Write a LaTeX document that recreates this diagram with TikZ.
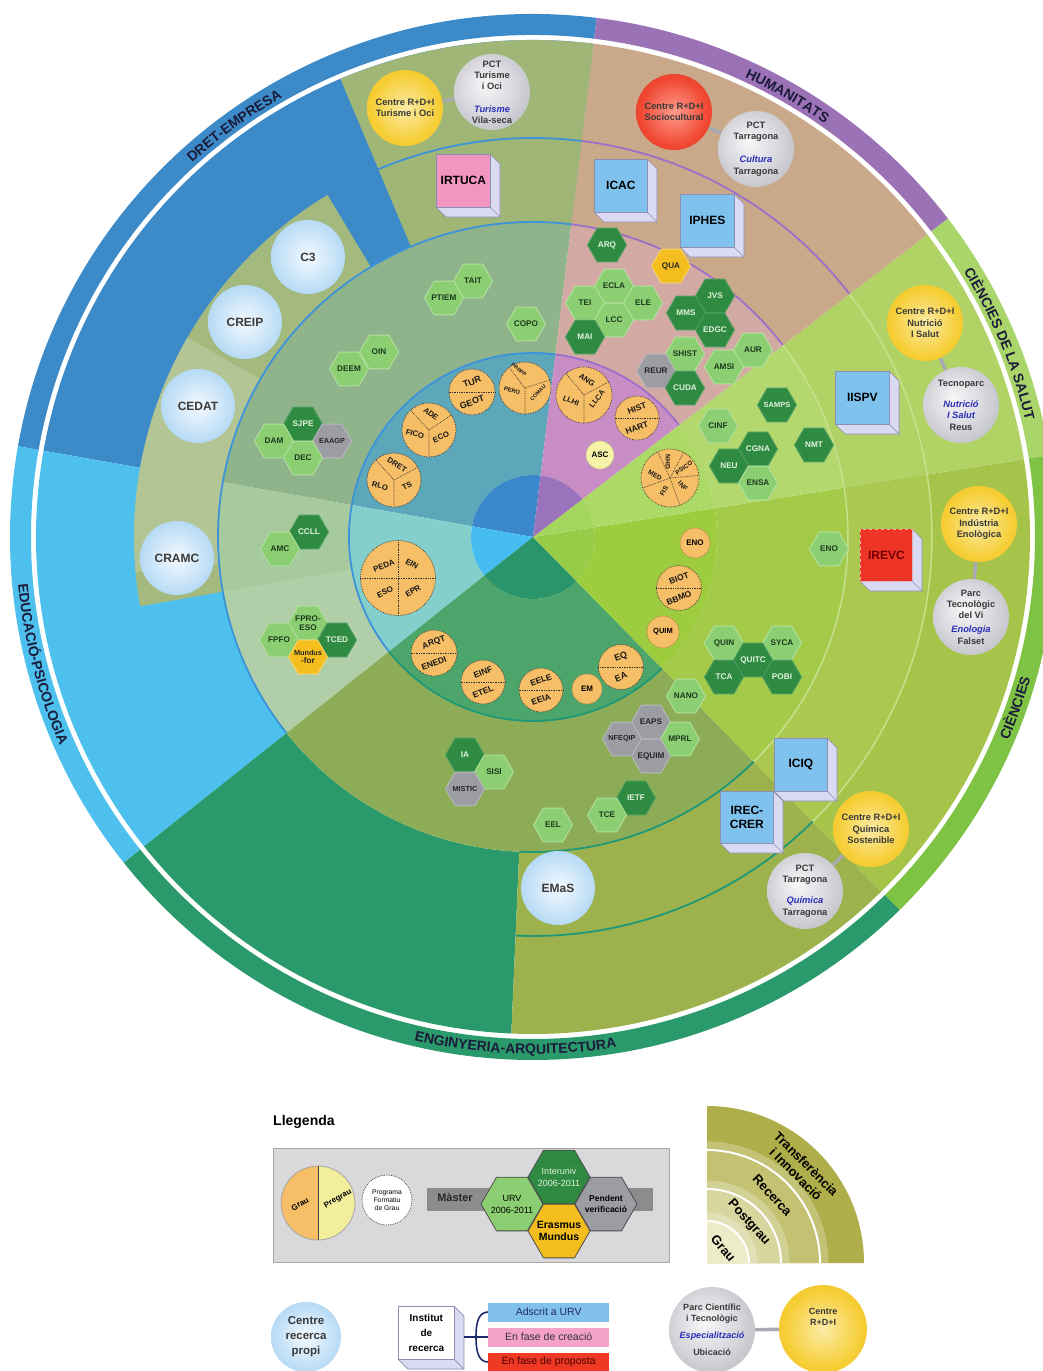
\documentclass[tikz,border=0pt]{standalone}
\usepackage{fontspec}
\setmainfont{Liberation Sans}
\setsansfont{Liberation Sans}
\usetikzlibrary{shapes.geometric,decorations.text,calc}
\pgfdeclarelayer{bg}
\pgfdeclarelayer{mid}
\pgfsetlayers{bg,mid,main}

\definecolor{cA}{HTML}{3D8AC9}
\definecolor{cB}{HTML}{9B72B6}
\definecolor{cC}{HTML}{A9D56A}
\definecolor{cD}{HTML}{7FC344}
\definecolor{cE}{HTML}{2A9A6C}
\definecolor{cF}{HTML}{4EC0EE}
\definecolor{tOlv}{HTML}{9FB676}
\definecolor{pOlv}{HTML}{A4B97E}
\definecolor{tB}{HTML}{C9A989}
\definecolor{tC}{HTML}{B1D265}
\definecolor{tD}{HTML}{A7C44A}
\definecolor{rD}{HTML}{ABC851}
\definecolor{tEo}{HTML}{9DB24C}
\definecolor{pgA}{HTML}{8FB48C}
\definecolor{pgF}{HTML}{A6C99E}
\definecolor{pgE}{HTML}{8DAC57}
\definecolor{pgD}{HTML}{A3CB49}
\definecolor{pgC}{HTML}{B3D86D}
\definecolor{pgB}{HTML}{D3AAA3}
\definecolor{grA}{HTML}{5CA7BA}
\definecolor{grF}{HTML}{84CFCB}
\definecolor{grE}{HTML}{4CA66C}
\definecolor{grD}{HTML}{9DCD3F}
\definecolor{grC}{HTML}{ADDA66}
\definecolor{grB}{HTML}{C98DC6}
\definecolor{inA}{HTML}{3B87CC}
\definecolor{inF}{HTML}{45BDF0}
\definecolor{inE}{HTML}{2A946A}
\definecolor{inD}{HTML}{98CC48}
\definecolor{inC}{HTML}{A4D55D}
\definecolor{inB}{HTML}{9B72BC}
\definecolor{lnA}{HTML}{3C93DA}
\definecolor{lnB}{HTML}{9C6FC9}
\definecolor{lnCD}{HTML}{C6E18C}
\definecolor{lnE}{HTML}{1F9878}
\definecolor{lbl}{HTML}{1B1B3A}
\definecolor{hexl}{HTML}{8BCF72}
\definecolor{hexlb}{HTML}{B2E09E}
\definecolor{hexlt}{HTML}{1E3A1E}
\definecolor{hexd}{HTML}{2F8A42}
\definecolor{hexdb}{HTML}{4E9E5E}
\definecolor{hexdt}{HTML}{E2F3DC}
\definecolor{hexy}{HTML}{F4BF1E}
\definecolor{hexyb}{HTML}{F7D266}
\definecolor{hexg}{HTML}{9C9CA3}
\definecolor{hexgb}{HTML}{B8B8BE}
\definecolor{grauor}{HTML}{F6BE66}
\definecolor{pregr}{HTML}{F2EE9C}
\definecolor{ascc}{HTML}{F5F2A8}
\definecolor{sphtxt}{HTML}{3A3A3A}
\definecolor{itblue}{HTML}{2B2DB8}
\definecolor{cubeside}{HTML}{DADAF2}
\definecolor{cubeedge}{HTML}{8E8EB4}
\definecolor{cubeblue}{HTML}{80C2EE}
\definecolor{cubepink}{HTML}{F096C0}
\definecolor{cubered}{HTML}{EE3424}
\definecolor{connc}{HTML}{A9A9B1}
\definecolor{yelc}{HTML}{FBEBA6}
\definecolor{yelm}{HTML}{F6CE36}
\definecolor{yele}{HTML}{EDB00E}
\definecolor{gryc}{HTML}{F8F8FA}
\definecolor{grym}{HTML}{D0D0D6}
\definecolor{grye}{HTML}{9A9AA4}
\definecolor{redc}{HTML}{FF9C8C}
\definecolor{redm}{HTML}{F04833}
\definecolor{rede}{HTML}{D22A18}
\definecolor{bluc}{HTML}{F4FAFF}
\definecolor{blum}{HTML}{B6DAF5}
\definecolor{bluee}{HTML}{74AEE4}
\definecolor{legbg}{HTML}{D9D9DB}
\definecolor{legbd}{HTML}{A6A6A8}
\definecolor{mbar}{HTML}{8C8C8E}
\definecolor{qa}{HTML}{EDECC8}
\definecolor{qb}{HTML}{D8D69E}
\definecolor{qc}{HTML}{C4C272}
\definecolor{qd}{HTML}{B0AE4A}
\definecolor{brk}{HTML}{1F2A6A}
\definecolor{barb}{HTML}{80C0EA}
\definecolor{barp}{HTML}{F4A2C8}
\definecolor{barr}{HTML}{EE3A24}

\pgfdeclareradialshading{sphyel}{\pgfpoint{0bp}{0bp}}{color(0bp)=(yelc); color(22bp)=(yelm); color(50bp)=(yele)}
\pgfdeclareradialshading{sphgry}{\pgfpoint{-5bp}{5bp}}{color(0bp)=(gryc); color(22bp)=(grym); color(50bp)=(grye)}
\pgfdeclareradialshading{sphred}{\pgfpoint{0bp}{0bp}}{color(0bp)=(redc); color(22bp)=(redm); color(50bp)=(rede)}
\pgfdeclareradialshading{sphblu}{\pgfpoint{0bp}{0bp}}{color(0bp)=(bluc); color(25bp)=(blum); color(50bp)=(bluee)}

\newcommand\fsz[2]{\fontsize{#1}{#2}\selectfont}
\newcommand\tbl[1]{{\color{itblue}\itshape #1}}
\newcommand\annsec[5]{\fill[#1] (#2:#4) arc[start angle=#2,end angle=#3,radius=#4] -- (#3:#5) arc[start angle=#3,end angle=#2,radius=#5] -- cycle;}
\newcommand\piesec[4]{\fill[#1] (0,0) -- (#2:#4) arc[start angle=#2,end angle=#3,radius=#4] -- cycle;}
\newcommand\rarc[4]{\draw[#1] (#2:#4) arc[start angle=#2,end angle=#3,radius=#4];}
\newcommand\toplab[4]{\path[decorate,decoration={text along path,text align=center,text color=lbl,text={|\fsz{14}{14}\bfseries|#4}}] (#1:#3) arc[start angle=#1,end angle=#2,radius=#3];}
% flat-top hexagon: #1 kind, #2 name, #3 x, #4 y, #5 text
\newcommand\hx[5]{%
 \filldraw[hexf#1] (#3,-#4) +(0:19.5) -- +(60:19.5) -- +(120:19.5) -- +(180:19.5) -- +(240:19.5) -- +(300:19.5) -- cycle;
 \node[hext#1] (#2) at (#3,-#4) {#5};}
% legend hexagon: #1 fill, #2 name, #3 x, #4 y, #5 text style, #6 text
\newcommand\lhx[6]{%
 \filldraw[fill=#1, draw=black!70, line width=0.8] (#3,-#4) +(0:31) -- +(60:31) -- +(120:31) -- +(180:31) -- +(240:31) -- +(300:31) -- cycle;
 \node[inner sep=0, align=center, #5] (#2) at (#3,-#4) {#6};}
\newcommand\gtwo[8]{%
 \node[gcirc, minimum size={2*#4}] (#1) at (#2,-#3) {};
 \draw[gline] (#1.west) -- (#1.east);
 \node[glab, rotate=#5, font=\fsz{#8}{#8}\bfseries] (#1-a) at ($(#1.center)+(0,{0.44*#4})$) {#6};
 \node[glab, rotate=#5, font=\fsz{#8}{#8}\bfseries] (#1-b) at ($(#1.center)+(0,{-0.44*#4})$) {#7};}
\newcommand\gthr[7]{%
 \node[gcirc, minimum size={2*#4}] (#1) at (#2,-#3) {};
 \draw[gline] (#1.center) -- +(#5:#4) (#1.center) -- +(#6:#4) (#1.center) -- +(#7:#4);}
\newcommand\glb[6]{\node[glab, rotate=#4, font=\fsz{#6}{#6}\bfseries] (#1) at (#2,-#3) {#5};}
\newcommand\cube[8]{%
 \filldraw[fill=cubeside, draw=cubeedge, line width=0.7, line join=round] (#2+#4,-#3) -- (#2+#4+10,-#3-10) -- (#2+#4+10,-#3-#5-10) -- (#2+10,-#3-#5-10) -- (#2,-#3-#5) -- (#2+#4,-#3-#5) -- cycle;
 \draw[cubeedge, line width=0.7] (#2+#4,-#3-#5) -- (#2+#4+10,-#3-#5-10);
 \node[draw=cubeedge, line width=0.7, fill=#6, minimum width=#4, minimum height=#5, inner sep=0, anchor=north west, align=center, font=\fsz{12}{14}\bfseries, #8] (#1) at (#2,-#3) {#7};}

\tikzset{
 sphbase/.style={circle, minimum size=76, inner sep=0, align=center, text=sphtxt, font=\fsz{9.3}{11.3}\bfseries},
 sphY/.style={sphbase, shading=sphyel},
 sphG/.style={sphbase, shading=sphgry},
 sphR/.style={sphbase, shading=sphred},
 sphB/.style={circle, minimum size=74, inner sep=0, align=center, shading=sphblu, text=sphtxt, font=\fsz{12}{14}\bfseries},
 hexfL/.style={fill=hexl, draw=hexlb, line width=0.9, line join=round},
 hexfD/.style={fill=hexd, draw=hexdb, line width=0.9, line join=round},
 hexfY/.style={fill=hexy, draw=hexyb, line width=0.9, line join=round},
 hexfG/.style={fill=hexg, draw=hexgb, line width=0.9, line join=round},
 hextbase/.style={inner sep=0, align=center, font=\fsz{8.2}{8.7}\bfseries},
 hextL/.style={hextbase, text=hexlt},
 hextD/.style={hextbase, text=hexdt},
 hextY/.style={hextbase, text=black!85},
 hextG/.style={hextbase, text=black!85},
 gcirc/.style={circle, fill=grauor, draw=black!80, densely dotted, line width=0.7, inner sep=0},
 gsolid/.style={circle, fill=grauor, draw=grauor!75!black, line width=0.5, inner sep=0, font=\fsz{8}{9}\bfseries},
 gline/.style={draw=black!80, densely dotted, line width=0.7},
 glab/.style={inner sep=0, text=black!90},
 conn/.style={draw=connc, line width=3.5},
 ringln/.style={line width=1.8},
 bar/.style={minimum width=121, minimum height=19, inner sep=0, anchor=west, font=\fsz{10.5}{12}},
 brkln/.style={draw=brk, line width=1.6},
 qlab/.style={inner sep=0, align=center, font=\fsz{13}{14.5}\bfseries},
}

\begin{document}
\begin{tikzpicture}[x=1pt,y=1pt]
\useasboundingbox (0,0) rectangle (1043,-1371);
\begin{pgfonlayer}{bg}
\fill[white] (0,0) rectangle (1043,-1371);
\begin{scope}[shift={(533,-537)}]
% outer band
\annsec{cA}{83}{170}{502}{523}
\annsec{cB}{37.5}{83}{502}{523}
\annsec{cC}{9}{37.5}{502}{523}
\annsec{cD}{-45.5}{9}{502}{523}
\annsec{cE}{-141.5}{-45.5}{502}{523}
\annsec{cF}{170}{218.5}{502}{523}
% transfer + research
\annsec{cA}{83}{170}{315}{497}
\annsec{cF}{170}{218.5}{315}{497}
\annsec{cE}{-141.5}{-92.5}{315}{497}
\annsec{tEo}{-92.5}{-45.5}{315}{497}
\annsec{tD}{-45.5}{9}{315}{497}
\annsec{rD}{-45.5}{9}{315}{399}
\annsec{tC}{9}{37.5}{315}{497}
\annsec{tB}{37.5}{83}{315}{497}
\annsec{tOlv}{83}{112.8}{315}{497}
\annsec{pOlv}{121}{190}{315}{399}
\annsec{white,opacity=0.18}{150}{185}{315}{399}
% postgrau
\annsec{pgA}{83}{170}{184}{315}
\annsec{pgF}{170}{218.5}{184}{315}
\annsec{white,opacity=0.12}{190}{218.5}{184}{315}
\annsec{pgE}{-141.5}{-45.5}{184}{315}
\annsec{pgD}{-45.5}{9}{184}{315}
\annsec{pgC}{9}{37.5}{184}{315}
\annsec{pgB}{37.5}{83}{184}{315}
% grau
\annsec{grA}{83}{170}{62}{184}
\annsec{grF}{170}{218.5}{62}{184}
\annsec{grE}{-141.5}{-45.5}{62}{184}
\annsec{grD}{-45.5}{9}{62}{184}
\annsec{grC}{9}{37.5}{62}{184}
\annsec{grB}{37.5}{83}{62}{184}
% inner disk
\piesec{inA}{83}{170}{62}
\piesec{inF}{170}{218.5}{62}
\piesec{inE}{-141.5}{-45.5}{62}
\piesec{inD}{-45.5}{9}{62}
\piesec{inC}{9}{37.5}{62}
\piesec{inB}{37.5}{83}{62}
% ring lines
\rarc{lnA,ringln}{83}{218.5}{315}
\rarc{lnA,ringln}{83}{218.5}{184}
\rarc{lnA,ringln}{83}{112.8}{399}
\rarc{lnB,ringln}{37.5}{83}{184}
\rarc{lnB,ringln}{37.5}{83}{315}
\rarc{lnB,ringln}{37.5}{83}{399}
\rarc{lnCD,line width=1.5}{-45.5}{37.5}{315}
\rarc{lnCD,line width=1.5}{-45.5}{37.5}{399}
\rarc{lnE,ringln}{-141.5}{-45.5}{184}
\rarc{lnE,ringln}{-92.5}{-45.5}{315}
\rarc{lnE,ringln}{-92.5}{-45.5}{399}
\end{scope}
\end{pgfonlayer}

% outer labels
\begin{scope}[shift={(533,-537)}]
\toplab{156}{96}{506}{DRET-EMPRESA}
\toplab{90}{30}{506}{HUMANITATS}
\toplab{52.5}{-7.5}{506}{CIÈNCIES DE LA SALUT}
\toplab{-49.5}{10.5}{517}{CIÈNCIES}
\toplab{-132}{-52}{517}{ENGINYERIA-ARQUITECTURA}
\toplab{164.5}{224.5}{517}{EDUCACIÓ-PSICOLOGIA}
\end{scope}

% transfer spheres
\node[sphY] (ctur) at (405,-108) {Centre R+D+I\\Turisme i Oci};
\node[sphG] (ptur) at (492,-92) {PCT\\Turisme\\i Oci\\[11pt]\tbl{Turisme}\\Vila-seca};
\node[sphR] (csoc) at (674,-112) {Centre R+D+I\\Sociocultural};
\node[sphG] (pcul) at (756,-149) {PCT\\Tarragona\\[12pt]\tbl{Cultura}\\Tarragona};
\node[sphY] (cnut) at (925,-323) {Centre R+D+I\\Nutrició\\I Salut};
\node[sphG] (tecn) at (961,-405) {Tecnoparc\\[10pt]\tbl{Nutrició}\\\tbl{I Salut}\\Reus};
\node[sphY] (cind) at (979,-524) {Centre R+D+I\\Indústria\\Enològica};
\node[sphG] (pvi) at (971,-617) {Parc\\Tecnològic\\del Vi\\[3pt]\tbl{Enologia}\\Falset};
\node[sphY] (cqui) at (871,-829) {Centre R+D+I\\Química\\Sostenible};
\node[sphG] (pqui) at (805,-891) {PCT\\Tarragona\\[10pt]\tbl{Química}\\Tarragona};
\begin{pgfonlayer}{mid}
\draw[conn] (ctur) -- (ptur);
\draw[conn] (csoc) -- (pcul);
\draw[conn] (cnut) -- (tecn);
\draw[conn] (cind) -- (pvi);
\draw[conn] (cqui) -- (pqui);
\end{pgfonlayer}

% own research centres
\node[sphB] (c3) at (308,-257) {C3};
\node[sphB] (creip) at (245,-322) {CREIP};
\node[sphB] (cedat) at (198,-406) {CEDAT};
\node[sphB] (cramc) at (177,-558) {CRAMC};
\node[sphB] (emas) at (558,-888) {EMaS};

% institutes
\cube{irtuca}{436}{154}{54}{53}{cubepink}{IRTUCA}{}
\cube{icac}{594}{159}{53}{53}{cubeblue}{ICAC}{}
\cube{iphes}{680}{194}{54}{53}{cubeblue}{IPHES}{}
\cube{iispv}{835}{371}{54}{53}{cubeblue}{IISPV}{}
\cube{irevc}{860}{529}{52}{52}{cubered}{IREVC}{draw=cubered!40!white, dashed, text=red!45!black}
\cube{iciq}{774}{738}{53}{53}{cubeblue}{ICIQ}{}
\cube{irec}{720}{791}{53}{52}{cubeblue}{IREC-\\CRER}{}

% masters hexagons
\hx{L}{tait}{473}{281}{TAIT}
\hx{L}{ptiem}{444}{298}{PTIEM}
\hx{L}{copo}{526}{324}{COPO}
\hx{L}{oin}{379}{352}{OIN}
\hx{L}{deem}{349}{369}{DEEM}
\hx{D}{sjpe}{303}{424}{SJPE}
\hx{L}{dam}{274}{441}{DAM}
\hx{G}{eaagp}{332}{441}{\fsz{7.3}{8}\bfseries EAAGP}
\hx{L}{dec}{303}{458}{DEC}
\hx{D}{ccll}{309}{532}{CCLL}
\hx{L}{amc}{280}{549}{AMC}
\hx{L}{fpro}{308}{623}{FPRO-\\ESO}
\hx{L}{fpfo}{279}{640}{FPFO}
\hx{D}{tced}{337}{640}{TCED}
\hx{Y}{mundus}{308}{657}{\fsz{7.3}{8.5}\bfseries Mundus\\-for}
\hx{D}{arq}{607}{245}{ARQ}
\hx{Y}{qua}{671}{266}{QUA}
\hx{L}{ecla}{614}{286}{ECLA}
\hx{L}{tei}{585}{303}{TEI}
\hx{L}{ele}{643}{303}{ELE}
\hx{L}{lcc}{614}{320}{LCC}
\hx{D}{mai}{585}{337}{MAI}
\hx{D}{jvs}{715}{296}{JVS}
\hx{D}{mms}{686}{313}{MMS}
\hx{D}{edgc}{715}{330}{EDGC}
\hx{L}{shist}{685}{354}{SHIST}
\hx{L}{aur}{753}{350}{AUR}
\hx{L}{amsi}{724}{367}{AMSI}
\hx{G}{reur}{656}{371}{REUR}
\hx{D}{cuda}{685}{388}{CUDA}
\hx{D}{samps}{777}{405}{\fsz{7.5}{8}\bfseries SAMPS}
\hx{L}{cinf}{718}{426}{CINF}
\hx{D}{nmt}{814}{445}{NMT}
\hx{D}{cgna}{758}{449}{CGNA}
\hx{D}{neu}{729}{466}{NEU}
\hx{L}{ensa}{758}{483}{ENSA}
\hx{L}{enoh}{829}{549}{ENO}
\hx{L}{quin}{724}{643}{QUIN}
\hx{L}{syca}{782}{643}{SYCA}
\hx{D}{quitc}{753}{660}{QUITC}
\hx{D}{tca}{724}{677}{TCA}
\hx{D}{pobi}{782}{677}{POBI}
\hx{L}{nano}{686}{696}{NANO}
\hx{G}{eaps}{651}{722}{EAPS}
\hx{G}{nfeqip}{622}{739}{\fsz{7.3}{8}\bfseries NFEQIP}
\hx{L}{mprl}{680}{739}{MPRL}
\hx{G}{equim}{651}{756}{EQUIM}
\hx{D}{ia}{465}{755}{IA}
\hx{L}{sisi}{494}{772}{SISI}
\hx{G}{mistic}{465}{789}{\fsz{7.3}{8}\bfseries MISTIC}
\hx{D}{ietf}{636}{798}{IETF}
\hx{L}{tce}{607}{815}{TCE}
\hx{L}{eel}{553}{825}{EEL}

% grau circles
\gtwo{tur}{472}{392}{23}{20}{TUR}{GEOT}{9}
\gthr{pero}{525}{388}{26}{128}{18}{270}
\glb{pero-a}{519}{370}{-40}{PRRPP}{5.2}
\glb{pero-b}{512}{391}{-15}{PERO}{5.8}
\glb{pero-c}{538}{393}{45}{COMAU}{5.2}
\gthr{ade}{429}{430}{27}{133}{34}{270}
\glb{ade-a}{431}{414}{-38}{ADE}{7.8}
\glb{ade-b}{415}{434}{-15}{FICO}{7.8}
\glb{ade-c}{441}{437}{25}{ECO}{7.8}
\gthr{dret}{394}{480}{27}{132}{28}{270}
\glb{dret-a}{397}{465}{-32}{DRET}{7.8}
\glb{dret-b}{380}{486}{-15}{RLO}{7.8}
\glb{dret-c}{407}{486}{28}{TS}{7.8}
\gthr{ang}{584}{395}{28}{130}{28}{270}
\glb{ang-a}{587}{380}{-35}{ANG}{7.8}
\glb{ang-b}{571}{401}{-22}{LLHI}{7.5}
\glb{ang-c}{597}{399}{52}{LLCA}{7.5}
\gtwo{hist}{637}{418}{22}{20}{HIST}{HART}{8.5}
\node[circle, fill=ascc, draw=ascc!80!black, line width=0.4, minimum size=28, inner sep=0, font=\fsz{8}{9}\bfseries] (asc) at (600,-455) {ASC};
\node[gcirc, minimum size=58] (med) at (670,-478) {};
\draw[gline] (med.center) -- +(115:29) (med.center) -- +(62:29) (med.center) -- +(5:29) (med.center) -- +(-70:29) (med.center) -- +(-160:29);
\glb{med-a}{655}{475}{-30}{MED}{6.6}
\glb{med-b}{668}{462}{-90}{NHD}{6.6}
\glb{med-c}{684}{468}{35}{PSICO}{6.2}
\glb{med-d}{683}{486}{-45}{INF}{6.6}
\glb{med-e}{664}{491}{60}{FIS}{6.6}
\node[gsolid, minimum size=30] (enoc) at (695,-543) {ENO};
\gtwo{biot}{679}{588}{22.5}{20}{BIOT}{BBMO}{8.5}
\node[gsolid, minimum size=32, font=\fsz{7.5}{8}\bfseries] (quim) at (663,-632) {QUIM};
\gtwo{eq}{621}{667}{22.5}{22}{EQ}{EA}{9}
\node[gsolid, minimum size=30] (em) at (587,-689) {EM};
\gtwo{eele}{541}{690}{22}{20}{EELE}{EEIA}{8.5}
\gtwo{einf}{483}{682}{22}{22}{EINF}{ETEL}{8.5}
\gtwo{arqt}{434}{653}{23}{20}{ARQT}{ENEDI}{8.5}
\node[gcirc, minimum size=75] (peda) at (398,-578) {};
\draw[gline] (peda.north) -- (peda.south) (peda.west) -- (peda.east);
\glb{peda-a}{384}{566}{22}{PEDA}{8}
\glb{peda-b}{412}{564}{-30}{EIN}{8}
\glb{peda-c}{385}{592}{25}{ESO}{8}
\glb{peda-d}{413}{591}{30}{EPR}{8}

% ---------------- legend ----------------
\node[font=\fsz{14}{15}\bfseries, anchor=west, inner sep=0] (leg) at (273,-1122) {Llegenda};
\node[draw=legbd, fill=legbg, line width=0.8, minimum width=396, minimum height=114, anchor=north west, inner sep=0] (lbox) at (273,-1148) {};
\fill[grauor] (318,-1166) arc[start angle=90,end angle=270,radius=37] -- cycle;
\fill[pregr] (318,-1166) arc[start angle=90,end angle=-90,radius=37] -- cycle;
\node[circle, draw=gray!70, line width=0.8, minimum size=74, inner sep=0] (lgr) at (318,-1203) {};
\draw[gray!50!black, line width=0.8] (lgr.north) -- (lgr.south);
\node[rotate=30, inner sep=0, font=\fsz{8}{9}\bfseries] (lgrt) at (300,-1204) {Grau};
\node[rotate=30, inner sep=0, font=\fsz{8}{9}\bfseries] (lpre) at (338,-1199) {Pregrau};
\node[circle, draw=gray!60!black, densely dotted, line width=0.8, fill=white, minimum size=50, inner sep=0, align=center, font=\fsz{6.8}{8}] (lpfg) at (387,-1200) {Programa\\Formatiu\\de Grau};
\node[fill=mbar, minimum width=226, minimum height=23, inner sep=0, anchor=west] (lmb) at (427,-1199) {};
\node[font=\fsz{11}{12}\bfseries, text=black!85, inner sep=0] (lmt) at (455,-1198) {Màster};
\lhx{hexl}{lurv}{512}{1204}{font=\fsz{9}{12}}{URV\\2006-2011}
\lhx{hexd}{lint}{559}{1177}{text=hexdt, font=\fsz{9}{12}}{Interuniv\\2006-2011}
\lhx{hexg}{lpen}{606}{1204}{font=\fsz{8.5}{11}\bfseries}{Pendent\\verificació}
\lhx{hexy}{leras}{559}{1231}{font=\fsz{10.5}{12.5}\bfseries}{Erasmus\\Mundus}
% quarter legend
\begin{scope}[shift={(707,-1263)}]
\fill[qd] (0,0) -- (0:157) arc[start angle=0,end angle=90,radius=157] -- cycle;
\fill[qc] (0,0) -- (0:113) arc[start angle=0,end angle=90,radius=113] -- cycle;
\fill[qb] (0,0) -- (0:74) arc[start angle=0,end angle=90,radius=74] -- cycle;
\fill[qa] (0,0) -- (0:42) arc[start angle=0,end angle=90,radius=42] -- cycle;
\foreach \rr in {42,74,113} {
 \draw[white, line width=9, opacity=0.25] (0:\rr+4) arc[start angle=0,end angle=90,radius=\rr+4];
 \draw[white, line width=2] (0:\rr) arc[start angle=0,end angle=90,radius=\rr];
}
\node[qlab, rotate=-50] (qgrau) at (42:22) {Grau};
\node[qlab, rotate=-48] (qpost) at (44:58) {Postgrau};
\node[qlab, rotate=-47] (qrec) at (46:94) {Recerca};
\node[qlab, rotate=-45] (qtra) at (45:133) {Transferència\\i Innovació};
\end{scope}
% bottom row
\node[sphB, minimum size=70, font=\fsz{11.5}{15}\bfseries] (lcrp) at (306,-1337) {Centre\\recerca\\propi};
\cube{linst}{398}{1306}{56}{53}{white}{Institut\\de\\recerca}{font=\fsz{10}{15}\bfseries, text=black}
\node[bar, fill=barb, text=brk] (bar1) at (488,-1312) {Adscrit a URV};
\node[bar, fill=barp, text=black!80] (bar2) at (488,-1337) {En fase de creació};
\node[bar, fill=barr, text=red!30!black] (bar3) at (488,-1362) {En fase de proposta};
\coordinate (ie) at (464,-1337);
\coordinate (bk) at (476,-1337);
\draw[brkln] (ie) -- (bk);
\draw[brkln] (bk) to[out=90,in=180] (bar1.west);
\draw[brkln] (bk) -- (bar2.west);
\draw[brkln] (bk) to[out=-90,in=180] (bar3.west);
\node[sphG, minimum size=86, font=\fsz{9}{11}\bfseries] (lparc) at (712,-1330) {Parc Científic\\i Tecnològic\\[6pt]\tbl{Especialització}\\[6pt]Ubicació};
\node[sphY, minimum size=88, font=\fsz{9}{11}\bfseries] (lcrd) at (823,-1329) {Centre\\R+D+I\\[14pt]};
\begin{pgfonlayer}{mid}
\draw[conn] (lparc) -- (lcrd);
\end{pgfonlayer}
\end{tikzpicture}
\end{document}
